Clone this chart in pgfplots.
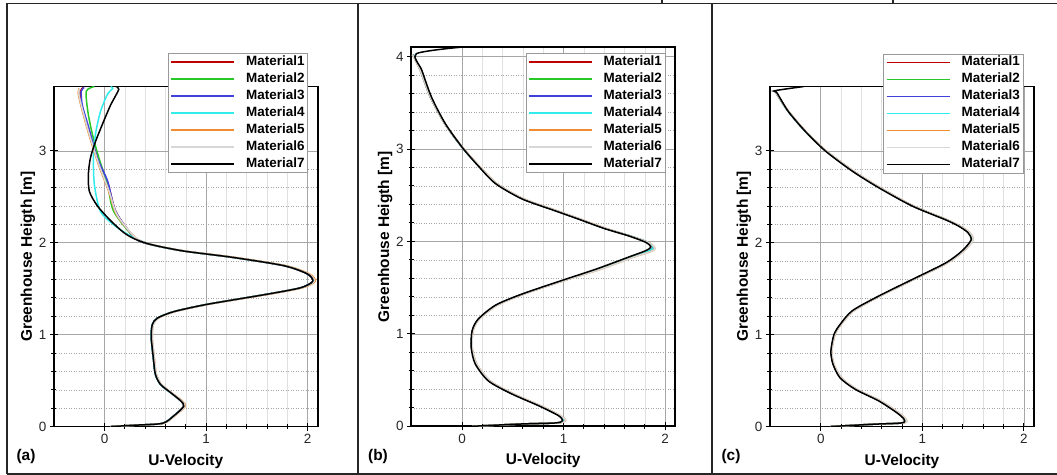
\documentclass[border=0pt]{standalone}
\usepackage{pgfplots}
\pgfplotsset{compat=1.18}
\usepackage{fontspec}
\setmainfont{Liberation Sans}
\definecolor{m1}{RGB}{192,0,0}
\definecolor{m2}{RGB}{40,200,40}
\definecolor{m3}{RGB}{64,64,220}
\definecolor{m4}{RGB}{50,235,235}
\definecolor{m5}{RGB}{240,140,50}
\definecolor{m6}{RGB}{215,215,215}
\definecolor{m7}{RGB}{0,0,0}
\pgfplotsset{
  panel/.style={
    scale only axis, width=264bp,
    xmin=-0.5, xmax=2.1, ymin=0,
    xtick={0,1,2},
    minor x tick num=4, minor y tick num=4,
    tick pos=left, tick align=center,
    major tick length=8bp, minor tick length=5bp,
    grid=both,
    major grid style={gray!70, line width=0.6bp},
    minor x grid style={black!12, line width=0.5bp},
    minor y grid style={black!35, line width=0.5bp, dotted},
    axis line style={line width=1.6bp},
    every tick/.style={black, line width=0.9bp},
    /pgf/number format/assume math mode=true,
    tick label style={font=\fontsize{13.5}{15}\selectfont, text=black!85},
    every axis x label/.style={at={(axis description cs:0.5,-0.102)}, anchor=center,
      font=\bfseries\fontsize{15.5}{18}\selectfont},
    every axis y label/.style={at={(axis description cs:-0.0985,0.5)}, anchor=center, rotate=90,
      font=\bfseries\fontsize{15.5}{18}\selectfont},
    xlabel={U-Velocity}, ylabel={Greenhouse Heigth [m]},
    legend cell align=left,
    legend image code/.code={\draw[##1, line width=1.7bp] (0bp,0bp) -- (63bp,0bp);},
    legend style={anchor=north west, draw=gray!80, fill=white, line width=0.8bp,
      font=\bfseries\fontsize{13.5}{15}\selectfont, inner sep=2bp, row sep=4bp, column sep=10bp,
      nodes={inner sep=1bp, text height=9bp, text depth=2bp}},
    every axis plot/.append style={line width=1.5bp, smooth, tension=0.45},
  },
}
\begin{document}
\begin{tikzpicture}[x=1bp,y=1bp]
\useasboundingbox (0,0) rectangle (1057,475);
% panel frames
\draw[line width=1.2bp, black!85] (7,471.5) -- (1057,471.5);
\draw[line width=1.2bp, black!85] (7,1) -- (1057,1);
\draw[line width=1.2bp, black!85] (7,1) -- (7,471.5);
\draw[line width=1.2bp, black!85] (358,1) -- (358,471.5);
\draw[line width=1.2bp, black!85] (712,1) -- (712,471.5);
\draw[line width=1.2bp, black!85] (662,471.5) -- (662,475);
\draw[line width=1.2bp, black!85] (893,471.5) -- (893,475);
\node[font=\bfseries\fontsize{15.5}{18}\selectfont] at (26,18) {(a)};
\node[font=\bfseries\fontsize{15.5}{18}\selectfont] at (378,18) {(b)};
\node[font=\bfseries\fontsize{15.5}{18}\selectfont] at (731,18) {(c)};

% ---------------- (a)
\begin{axis}[panel, at={(53,52.7)}, anchor=south west, height=340bp, ymax=3.7, ytick={0,1,2,3},
  legend style={at={(axis description cs:0.433,1.098)}}]
\addplot[m1] coordinates {(0.06,0.00) (0.30,0.015) (0.57,0.035) (0.68,0.115) (0.78,0.22) (0.75,0.28) (0.65,0.37) (0.55,0.46) (0.50,0.57) (0.48,0.75) (0.46,0.97) (0.47,1.11) (0.52,1.18) (0.68,1.25) (1.01,1.33) (1.60,1.44) (1.93,1.51) (2.05,1.58) (2.00,1.66) (1.77,1.75) (1.27,1.84) (0.78,1.91) (0.46,1.98) (0.30,2.05) (0.115,2.33) (0.035,2.64) (-0.065,2.91) (-0.155,3.22) (-0.225,3.49) (-0.24,3.645) (-0.21,3.69)};
\addplot[m2] coordinates {(0.06,0.00) (0.30,0.015) (0.57,0.035) (0.68,0.115) (0.78,0.22) (0.75,0.28) (0.65,0.37) (0.55,0.46) (0.50,0.57) (0.48,0.75) (0.46,0.97) (0.47,1.11) (0.52,1.18) (0.68,1.25) (1.01,1.33) (1.60,1.44) (1.93,1.51) (2.05,1.58) (2.00,1.66) (1.77,1.75) (1.27,1.84) (0.78,1.91) (0.46,1.98) (0.30,2.05) (0.09,2.34) (0.03,2.63) (-0.055,2.92) (-0.12,3.18) (-0.165,3.43) (-0.18,3.65) (-0.10,3.70)};
\addplot[m3] coordinates {(0.06,0.00) (0.30,0.015) (0.57,0.035) (0.68,0.115) (0.78,0.22) (0.75,0.28) (0.65,0.37) (0.55,0.46) (0.50,0.57) (0.48,0.75) (0.46,0.97) (0.47,1.11) (0.52,1.18) (0.68,1.25) (1.01,1.33) (1.60,1.44) (1.93,1.51) (2.05,1.58) (2.00,1.66) (1.77,1.75) (1.27,1.84) (0.78,1.91) (0.46,1.98) (0.30,2.05) (0.11,2.34) (0.03,2.67) (-0.07,2.92) (-0.155,3.25) (-0.22,3.50) (-0.23,3.65) (-0.20,3.69)};
\addplot[m4] coordinates {(0.06,0.00) (0.30,0.015) (0.57,0.035) (0.68,0.115) (0.785,0.22) (0.755,0.28) (0.65,0.37) (0.55,0.46) (0.50,0.57) (0.48,0.75) (0.46,0.97) (0.47,1.11) (0.52,1.18) (0.68,1.25) (1.01,1.33) (1.60,1.44) (1.94,1.51) (2.06,1.58) (2.01,1.66) (1.78,1.75) (1.27,1.84) (0.78,1.91) (0.46,1.98) (0.28,2.06) (0.12,2.17) (-0.04,2.34) (-0.10,2.63) (-0.11,2.92) (-0.09,3.18) (-0.04,3.43) (0.03,3.62) (0.08,3.68) (0.06,3.70)};
\addplot[m5] coordinates {(0.06,0.00) (0.30,0.015) (0.58,0.035) (0.69,0.115) (0.795,0.22) (0.765,0.28) (0.66,0.37) (0.56,0.46) (0.51,0.57) (0.49,0.75) (0.47,0.97) (0.48,1.11) (0.53,1.18) (0.69,1.25) (1.02,1.33) (1.62,1.44) (1.95,1.51) (2.075,1.58) (2.02,1.66) (1.79,1.75) (1.29,1.84) (0.79,1.91) (0.47,1.98) (0.31,2.05) (0.12,2.30) (0.04,2.56) (-0.06,2.85) (-0.155,3.18) (-0.23,3.48) (-0.26,3.63) (-0.25,3.68)};
\addplot[m6] coordinates {(0.06,0.00) (0.30,0.015) (0.58,0.035) (0.69,0.115) (0.79,0.22) (0.76,0.28) (0.66,0.37) (0.56,0.46) (0.51,0.57) (0.49,0.75) (0.47,0.97) (0.48,1.11) (0.53,1.18) (0.69,1.25) (1.02,1.33) (1.61,1.44) (1.94,1.51) (2.065,1.58) (2.01,1.66) (1.78,1.75) (1.28,1.84) (0.79,1.91) (0.47,1.98) (0.31,2.05) (0.125,2.30) (0.045,2.56) (-0.055,2.85) (-0.15,3.18) (-0.225,3.48) (-0.255,3.63) (-0.245,3.68)};
\addplot[m7] coordinates {(0.06,0.00) (0.30,0.015) (0.57,0.035) (0.68,0.115) (0.78,0.22) (0.75,0.28) (0.65,0.37) (0.55,0.46) (0.50,0.57) (0.48,0.75) (0.46,0.97) (0.47,1.11) (0.52,1.18) (0.68,1.25) (1.01,1.33) (1.60,1.44) (1.93,1.51) (2.05,1.58) (2.00,1.66) (1.77,1.75) (1.27,1.84) (0.78,1.91) (0.46,1.98) (0.30,2.04) (0.19,2.11) (0.06,2.24) (-0.07,2.40) (-0.15,2.56) (-0.16,2.74) (-0.14,2.92) (-0.09,3.10) (-0.01,3.32) (0.06,3.50) (0.14,3.67) (0.11,3.70)};
\legend{Material1,Material2,Material3,Material4,Material5,Material6,Material7}
\end{axis}

% ---------------- (b)
\begin{axis}[panel, at={(405,52.7)}, anchor=south west, height=379bp, ymax=4.1, ytick={0,1,2,3,4},
  legend style={at={(axis description cs:0.433,0.984)}},
  every axis x label/.append style={at={(axis description cs:0.5,-0.0915)}},]
\addplot[m1] coordinates {(0.10,0.00) (0.59,0.025) (0.93,0.036) (1.01,0.06) (0.96,0.115) (0.77,0.22) (0.50,0.35) (0.27,0.49) (0.14,0.675) (0.095,0.856) (0.105,1.036) (0.165,1.16) (0.34,1.31) (0.60,1.43) (1.01,1.58) (1.35,1.70) (1.67,1.83) (1.84,1.90) (1.885,1.935) (1.83,1.99) (1.65,2.06) (1.41,2.14) (1.16,2.24) (0.93,2.33) (0.60,2.46) (0.34,2.625) (0.17,2.81) (0.00,3.02) (-0.17,3.275) (-0.31,3.56) (-0.41,3.85) (-0.48,4.02)};
\addplot[m2] coordinates {(0.10,0.00) (0.59,0.025) (0.93,0.036) (1.01,0.06) (0.96,0.115) (0.77,0.22) (0.50,0.35) (0.27,0.49) (0.14,0.675) (0.095,0.856) (0.105,1.036) (0.165,1.16) (0.34,1.31) (0.60,1.43) (1.01,1.58) (1.35,1.70) (1.67,1.83) (1.84,1.90) (1.885,1.935) (1.83,1.99) (1.65,2.06) (1.41,2.14) (1.16,2.24) (0.93,2.33) (0.60,2.46) (0.34,2.625) (0.17,2.81) (0.00,3.02) (-0.17,3.275) (-0.31,3.56) (-0.41,3.85) (-0.48,4.02)};
\addplot[m3] coordinates {(0.10,0.00) (0.59,0.025) (0.93,0.036) (1.01,0.06) (0.96,0.115) (0.77,0.22) (0.50,0.35) (0.27,0.49) (0.14,0.675) (0.095,0.856) (0.105,1.036) (0.165,1.16) (0.34,1.31) (0.60,1.43) (1.01,1.58) (1.35,1.70) (1.67,1.83) (1.84,1.90) (1.885,1.935) (1.83,1.99) (1.65,2.06) (1.41,2.14) (1.16,2.24) (0.93,2.33) (0.60,2.46) (0.34,2.625) (0.17,2.81) (0.00,3.02) (-0.17,3.275) (-0.31,3.56) (-0.41,3.85) (-0.48,4.02)};
\addplot[m4] coordinates {(0.10,0.00) (0.59,0.025) (0.93,0.036) (1.01,0.06) (0.96,0.115) (0.77,0.22) (0.50,0.35) (0.27,0.49) (0.14,0.675) (0.095,0.856) (0.105,1.036) (0.165,1.16) (0.34,1.31) (0.60,1.43) (1.01,1.58) (1.35,1.70) (1.67,1.83) (1.84,1.90) (1.885,1.935) (1.83,1.99) (1.65,2.06) (1.41,2.14) (1.16,2.24) (0.93,2.33) (0.60,2.46) (0.34,2.625) (0.17,2.81) (0.00,3.02) (-0.17,3.275) (-0.31,3.56) (-0.41,3.85) (-0.48,4.02)};
\addplot[m5] coordinates {(0.10,0.00) (0.59,0.025) (0.94,0.036) (1.02,0.06) (0.97,0.115) (0.78,0.22) (0.51,0.35) (0.28,0.49) (0.145,0.675) (0.10,0.856) (0.11,1.036) (0.17,1.16) (0.35,1.31) (0.61,1.43) (1.02,1.58) (1.37,1.70) (1.69,1.83) (1.86,1.89) (1.90,1.925) (1.85,1.98) (1.66,2.055) (1.42,2.14) (1.17,2.24) (0.94,2.33) (0.61,2.46) (0.35,2.62) (0.175,2.81) (0.005,3.02) (-0.17,3.275) (-0.31,3.56) (-0.41,3.85) (-0.49,4.02)};
\addplot[m6] coordinates {(0.10,0.00) (0.59,0.025) (0.94,0.036) (1.02,0.06) (0.97,0.115) (0.78,0.22) (0.51,0.35) (0.28,0.49) (0.145,0.675) (0.10,0.856) (0.11,1.036) (0.17,1.16) (0.35,1.31) (0.61,1.43) (1.02,1.58) (1.37,1.70) (1.69,1.83) (1.86,1.89) (1.90,1.925) (1.85,1.98) (1.66,2.055) (1.42,2.14) (1.17,2.24) (0.94,2.33) (0.61,2.46) (0.35,2.62) (0.175,2.81) (0.005,3.02) (-0.17,3.275) (-0.31,3.56) (-0.41,3.85) (-0.49,4.02)};
\addplot[m7] coordinates {(0.10,0.00) (0.59,0.025) (0.92,0.036) (0.99,0.06) (0.95,0.115) (0.76,0.22) (0.49,0.35) (0.26,0.49) (0.13,0.675) (0.09,0.856) (0.10,1.036) (0.16,1.16) (0.33,1.31) (0.59,1.43) (0.99,1.58) (1.32,1.70) (1.64,1.83) (1.81,1.90) (1.86,1.94) (1.81,1.99) (1.64,2.06) (1.40,2.14) (1.15,2.24) (0.92,2.33) (0.59,2.46) (0.33,2.625) (0.165,2.81) (0.00,3.02) (-0.165,3.275) (-0.30,3.56) (-0.395,3.85) (-0.45,4.03) (-0.02,4.10)};
\legend{Material1,Material2,Material3,Material4,Material5,Material6,Material7}
\end{axis}

% ---------------- (c)
\begin{axis}[panel, at={(758.3,52.7)}, anchor=south west, height=340bp, ymax=3.7, ytick={0,1,2,3},
  legend style={at={(axis description cs:0.43,1.097)}}]
\addplot[m1] coordinates {(0.095,0.00) (0.51,0.025) (0.81,0.04) (0.83,0.08) (0.76,0.15) (0.58,0.28) (0.35,0.405) (0.20,0.53) (0.125,0.68) (0.105,0.82) (0.135,1.0) (0.195,1.11) (0.32,1.26) (0.58,1.42) (0.91,1.60) (1.24,1.78) (1.40,1.91) (1.49,2.03) (1.46,2.11) (1.37,2.18) (1.24,2.25) (0.91,2.40) (0.58,2.60) (0.32,2.78) (0.05,3.00) (-0.15,3.21) (-0.32,3.43) (-0.44,3.63) (-0.46,3.65)};
\addplot[m2] coordinates {(0.095,0.00) (0.51,0.025) (0.81,0.04) (0.83,0.08) (0.76,0.15) (0.58,0.28) (0.35,0.405) (0.20,0.53) (0.125,0.68) (0.105,0.82) (0.135,1.0) (0.195,1.11) (0.32,1.26) (0.58,1.42) (0.91,1.60) (1.24,1.78) (1.40,1.91) (1.49,2.03) (1.46,2.11) (1.37,2.18) (1.24,2.25) (0.91,2.40) (0.58,2.60) (0.32,2.78) (0.05,3.00) (-0.15,3.21) (-0.32,3.43) (-0.44,3.63) (-0.46,3.65)};
\addplot[m3] coordinates {(0.095,0.00) (0.51,0.025) (0.81,0.04) (0.83,0.08) (0.76,0.15) (0.58,0.28) (0.35,0.405) (0.20,0.53) (0.125,0.68) (0.105,0.82) (0.135,1.0) (0.195,1.11) (0.32,1.26) (0.58,1.42) (0.91,1.60) (1.24,1.78) (1.40,1.91) (1.49,2.03) (1.46,2.11) (1.37,2.18) (1.24,2.25) (0.91,2.40) (0.58,2.60) (0.32,2.78) (0.05,3.00) (-0.15,3.21) (-0.32,3.43) (-0.44,3.63) (-0.46,3.65)};
\addplot[m4] coordinates {(0.095,0.00) (0.51,0.025) (0.81,0.04) (0.83,0.08) (0.76,0.15) (0.58,0.28) (0.35,0.405) (0.20,0.53) (0.125,0.68) (0.105,0.82) (0.135,1.0) (0.195,1.11) (0.32,1.26) (0.58,1.42) (0.91,1.60) (1.24,1.78) (1.40,1.91) (1.49,2.03) (1.46,2.11) (1.37,2.18) (1.24,2.25) (0.91,2.40) (0.58,2.60) (0.32,2.78) (0.05,3.00) (-0.15,3.21) (-0.32,3.43) (-0.44,3.63) (-0.46,3.65)};
\addplot[m5] coordinates {(0.095,0.00) (0.51,0.025) (0.82,0.04) (0.84,0.08) (0.77,0.15) (0.59,0.28) (0.355,0.405) (0.205,0.53) (0.13,0.68) (0.11,0.82) (0.14,1.0) (0.20,1.11) (0.325,1.26) (0.585,1.42) (0.915,1.60) (1.245,1.78) (1.41,1.91) (1.50,2.03) (1.47,2.11) (1.375,2.18) (1.245,2.25) (0.915,2.40) (0.585,2.60) (0.325,2.78) (0.055,3.00) (-0.145,3.21) (-0.315,3.43) (-0.44,3.63) (-0.46,3.65)};
\addplot[m6] coordinates {(0.095,0.00) (0.51,0.025) (0.82,0.04) (0.84,0.08) (0.77,0.15) (0.59,0.28) (0.355,0.405) (0.205,0.53) (0.13,0.68) (0.11,0.82) (0.14,1.0) (0.20,1.11) (0.325,1.26) (0.585,1.42) (0.915,1.60) (1.245,1.78) (1.41,1.91) (1.50,2.03) (1.47,2.11) (1.375,2.18) (1.245,2.25) (0.915,2.40) (0.585,2.60) (0.325,2.78) (0.055,3.00) (-0.145,3.21) (-0.315,3.43) (-0.44,3.63) (-0.46,3.65)};
\addplot[m7] coordinates {(0.095,0.00) (0.51,0.025) (0.80,0.04) (0.82,0.08) (0.75,0.15) (0.57,0.28) (0.34,0.405) (0.19,0.53) (0.12,0.68) (0.10,0.82) (0.13,1.0) (0.19,1.11) (0.31,1.26) (0.57,1.42) (0.90,1.60) (1.23,1.78) (1.39,1.91) (1.48,2.03) (1.45,2.11) (1.36,2.18) (1.23,2.25) (0.90,2.40) (0.57,2.60) (0.31,2.78) (0.045,3.00) (-0.15,3.21) (-0.32,3.43) (-0.43,3.63) (-0.45,3.655) (-0.17,3.70)};
\legend{Material1,Material2,Material3,Material4,Material5,Material6,Material7}
\end{axis}
\end{tikzpicture}
\end{document}
